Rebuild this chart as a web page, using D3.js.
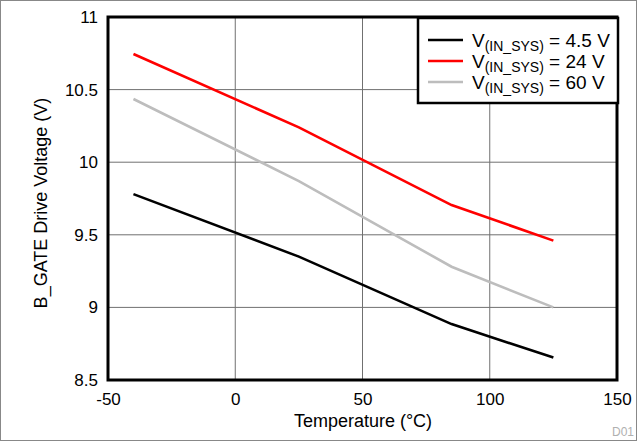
<!DOCTYPE html>
<html><head><meta charset="utf-8">
<script src="https://cdn.jsdelivr.net/npm/d3@7"></script>
<style>body{margin:0;background:#fff}svg{display:block}text{font-family:"Liberation Sans",Arial,sans-serif}</style>
</head><body>
<svg id="c" width="637" height="441"></svg>
<script>
const temps = [-40, 25, 85, 125];
const v45 = [9.78, 9.35, 8.885, 8.655];
const v24 = [10.745, 10.24, 9.705, 9.46];
const v60 = [10.435, 9.87, 9.28, 9.0];
const seriesNames = ["4.5 V", "24 V", "60 V"];
const seriesColors = ["#000000", "#ff0000", "#bdbdbd"];
const xTicks = [-50, 0, 50, 100, 150];
const yTicks = [8.5, 9, 9.5, 10, 10.5, 11];

const svg = d3.select("#c");
const L = 108, R = 617, T = 17, B = 380;
const x = d3.scaleLinear().domain([-50, 150]).range([L, R]);
const y = d3.scaleLinear().domain([8.5, 11]).range([B, T]);

svg.append("rect").attr("x", 0.5).attr("y", 0.5).attr("width", 636).attr("height", 440)
  .attr("fill", "none").attr("stroke", "#888").attr("stroke-width", 1);

// grid
svg.append("g").selectAll("line").data(xTicks.slice(1, -1)).join("line")
  .attr("x1", d => x(d)).attr("x2", d => x(d)).attr("y1", T).attr("y2", B)
  .attr("stroke", "#707070").attr("stroke-width", 1);
svg.append("g").selectAll("line").data(yTicks.slice(1, -1)).join("line")
  .attr("y1", d => y(d)).attr("y2", d => y(d)).attr("x1", L).attr("x2", R)
  .attr("stroke", "#707070").attr("stroke-width", 1);

// axes labels via d3 axes
const xAxis = svg.append("g").attr("transform", `translate(0,${B})`)
  .call(d3.axisBottom(x).tickValues(xTicks).tickSize(0).tickPadding(13).tickFormat(d => String(d)));
const yAxis = svg.append("g").attr("transform", `translate(${L},0)`)
  .call(d3.axisLeft(y).tickValues(yTicks).tickSize(0).tickPadding(10).tickFormat(d => String(d)));
[xAxis, yAxis].forEach(a => {
  a.select(".domain").remove();
  a.selectAll("text").attr("font-size", 17).attr("fill", "#000").style("font-family", '"Liberation Sans",Arial,sans-serif');
});

// lines
const allSeries = [v45, v24, v60];
const line = d3.line().x((d, i) => x(temps[i])).y(d => y(d));
allSeries.forEach((s, k) => {
  svg.append("path").datum(s).attr("d", line).attr("fill", "none")
    .attr("stroke", seriesColors[k]).attr("stroke-width", 2.6);
});

// frame
svg.append("rect").attr("x", L).attr("y", T).attr("width", R - L).attr("height", B - T)
  .attr("fill", "none").attr("stroke", "#000").attr("stroke-width", 3);

// legend
const lg = svg.append("g");
lg.append("rect").attr("x", 418).attr("y", 18).attr("width", 200).attr("height", 85)
  .attr("fill", "#fff").attr("stroke", "#000").attr("stroke-width", 2.5);
seriesNames.forEach((n, k) => {
  const yy = 40 + k * 21;
  lg.append("line").attr("x1", 428).attr("x2", 463).attr("y1", yy).attr("y2", yy)
    .attr("stroke", seriesColors[k]).attr("stroke-width", 2.6);
  const t = lg.append("text").attr("x", 472).attr("y", yy + 7).attr("font-size", 19).attr("fill", "#000");
  t.append("tspan").text("V");
  t.append("tspan").attr("font-size", 14).attr("dy", 4).text("(IN_SYS)");
  t.append("tspan").attr("dy", -4).text(" = " + n);
});

// titles
svg.append("text").attr("x", 363).attr("y", 427).attr("text-anchor", "middle")
  .attr("font-size", 18).text("Temperature (°C)");
svg.append("text").attr("transform", `translate(47,203) rotate(-90)`)
  .attr("text-anchor", "middle").attr("font-size", 18).text("B_GATE Drive Voltage (V)");
svg.append("text").attr("x", 634).attr("y", 436).attr("text-anchor", "end")
  .attr("font-size", 12).attr("fill", "#b0b0b0").text("D01");
</script>
</body></html>
